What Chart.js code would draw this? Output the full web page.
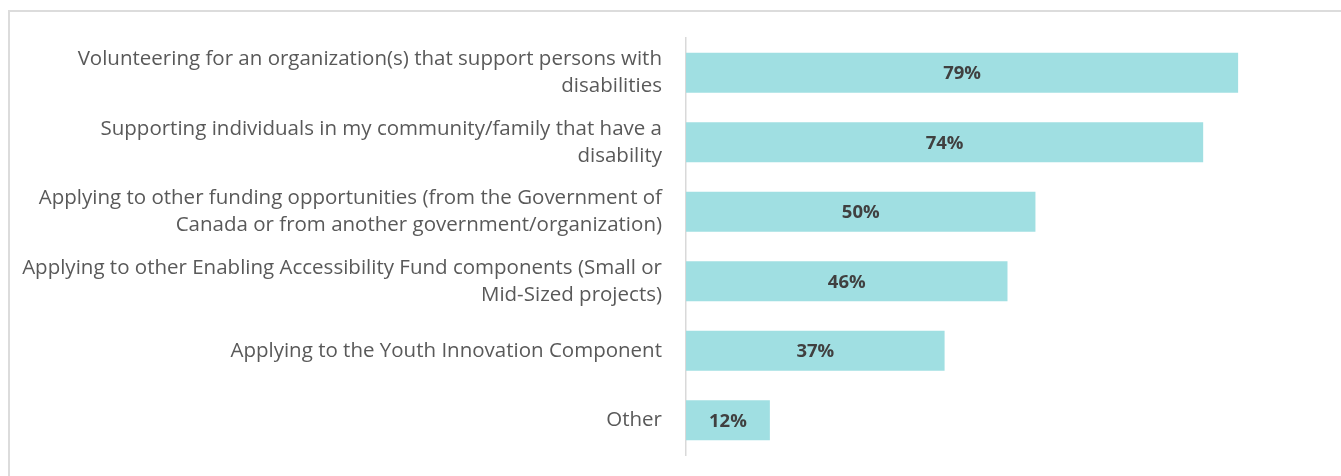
<!DOCTYPE html>
<html>
<head>
<meta charset="utf-8">
<script src="https://cdn.jsdelivr.net/npm/chart.js@4.4.0/dist/chart.umd.min.js"></script>
<style>
  html, body { margin: 0; padding: 0; background: #fff; }
  #marco {
    position: absolute; left: 8px; top: 10px;
    width: 1400px; height: 500px;
    border: 2px solid #dcdcdc;
  }
  #lienzo { position: absolute; left: 0; top: 0; }
</style>
</head>
<body>
<div id="marco"></div>
<canvas id="lienzo" width="1341" height="476"></canvas>
<script>
const categorias = [
    ['Volunteering for an organization(s) that support persons with', 'disabilities'],
    ['Supporting individuals in my community/family that have a', 'disability'],
    ['Applying to other funding opportunities (from the Government of', 'Canada or from another government/organization)'],
    ['Applying to other Enabling Accessibility Fund components (Small or', 'Mid-Sized projects)'],
    'Applying to the Youth Innovation Component',
    'Other'
];
const porcentajes = [79, 74, 50, 46, 37, 12];

// etiquetas de valor dentro de cada barra
const etiquetasBarra = {
    id: 'etiquetasBarra',
    afterDatasetsDraw(chart) {
        const ctx = chart.ctx;
        const meta = chart.getDatasetMeta(0);
        ctx.save();
        ctx.font = 'bold 18.5px "Open Sans"';
        ctx.fillStyle = '#404040';
        ctx.textAlign = 'center';
        ctx.textBaseline = 'middle';
        meta.data.forEach((barra, i) => {
            const x = (barra.base + barra.x) / 2;
            ctx.fillText(porcentajes[i] + '%', x, barra.y + 1);
        });
        ctx.restore();
    }
};

new Chart(document.getElementById('lienzo'), {
    type: 'bar',
    data: {
        labels: categorias,
        datasets: [{
            data: porcentajes,
            backgroundColor: '#a0dfe2',
            borderWidth: 0,
            barPercentage: 0.575,
            categoryPercentage: 1
        }]
    },
    options: {
        indexAxis: 'y',
        responsive: false,
        animation: false,
        layout: { padding: { top: 38, bottom: 21, left: 0, right: 26 } },
        plugins: {
            legend: { display: false },
            tooltip: { enabled: false }
        },
        scales: {
            x: {
                display: false,
                min: 0,
                max: 90
            },
            y: {
                grid: { display: false, drawTicks: false },
                border: { display: true, color: '#d9d9d9', width: 1.5 },
                ticks: {
                    color: '#595959',
                    padding: 24,
                    font: { family: '"Open Sans"', size: 20.5, lineHeight: 1.32 }
                },
                afterFit(scale) {
                    scale.width = 686;
                    scale.paddingTop = 0;
                    scale.paddingBottom = 0;
                }
            }
        }
    },
    plugins: [etiquetasBarra]
});
</script>
</body>
</html>
